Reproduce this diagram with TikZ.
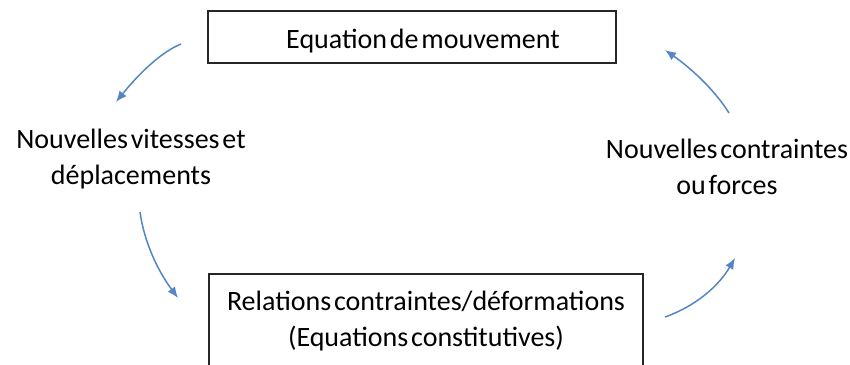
\documentclass[tikz,border=0pt]{standalone}
\usepackage{fontspec}
\setmainfont{Carlito}[WordSpace={0.45}]
\usetikzlibrary{arrows.meta}
\definecolor{arrowblue}{RGB}{84,134,196}
\tikzset{
  lbl/.style={inner sep=0pt, anchor=base, font=\fontsize{28}{36}\selectfont},
  boxline/.style={draw=black!85, line width=1.1pt},
  flow/.style={draw=arrowblue, line width=1.5pt, -{Latex[length=11pt,width=9pt]}}
}
\begin{document}
\begin{tikzpicture}[x=1pt,y=-1pt]
\fill[white] (0,0) rectangle (850,364);
\useasboundingbox (0,0) rectangle (850,364);
% texts
\node[lbl] (eqm) at (423,48) {Equation de mouvement};
\node[lbl] (vit) at (131,148) {\begin{tabular}[t]{@{}c@{}}Nouvelles vitesses et\\ déplacements\end{tabular}};
\node[lbl] (frc) at (727,158) {\begin{tabular}[t]{@{}c@{}}Nouvelles contraintes\\ ou forces\end{tabular}};
\node[lbl] (rel) at (426,310) {\begin{tabular}[t]{@{}c@{}}Relations contraintes/déformations\\ (Equations constitutives)\end{tabular}};
% boxes
\draw[boxline] (208,11) rectangle (616,63);
\begin{scope}
\clip (0,0) rectangle (850,364);
\draw[boxline] (209,274) rectangle (643,390);
\end{scope}
% arrow endpoints
\coordinate (a1s) at (181,44);  \coordinate (a1e) at (116,102);
\coordinate (a2s) at (140,212); \coordinate (a2e) at (178,298);
\coordinate (a3s) at (665,317); \coordinate (a3e) at (735,258);
\coordinate (a4s) at (729,113); \coordinate (a4e) at (665,50);
\draw[flow] (a1s) .. controls (163,51.3) and (141.3,70.7) .. (a1e);
\draw[flow] (a2s) .. controls (144,240.7) and (156.7,269.3) .. (a2e);
\draw[flow] (a3s) .. controls (695,306.3) and (718.3,286.7) .. (a3e);
\draw[flow] (a4s) .. controls (715.7,91.7) and (694.3,70.7) .. (a4e);
\end{tikzpicture}
\end{document}
